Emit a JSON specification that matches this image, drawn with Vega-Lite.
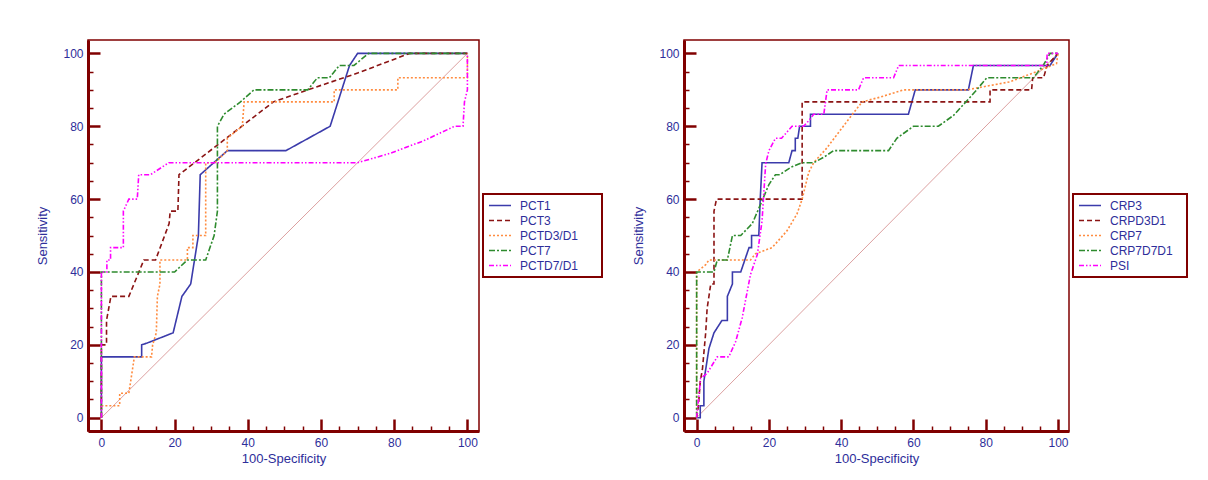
{
  "$schema": "https://vega.github.io/schema/vega-lite/v6.json",
  "background": "white",
  "padding": {"left": 36, "top": 39, "right": 0, "bottom": 0},
  "spacing": 28,
  "config": {
    "font": "Liberation Sans",
    "view": {"stroke": "#800000", "strokeWidth": 1.5},
    "legend": {
      "strokeColor": "#800000",
      "strokeWidth": 2,
      "fillColor": "white",
      "padding": 5,
      "labelFont": "Liberation Sans",
      "labelFontSize": 12,
      "labelColor": "#2e2e9a",
      "symbolType": "M-1,0H3",
      "symbolSize": 121,
      "symbolStrokeWidth": 1.6,
      "labelOffset": 19,
      "rowPadding": 2
    }
  },
  "datasets": {
    "diag": [{"x": 0, "y": 0}, {"x": 100, "y": 100}],
    "roc1": [
      {"c": "PCT1", "i": 1, "x": 0, "y": 0}, {"c": "PCT1", "i": 2, "x": 0, "y": 16.7}, {"c": "PCT1", "i": 3, "x": 11, "y": 16.7}, {"c": "PCT1", "i": 4, "x": 11, "y": 20}, {"c": "PCT1", "i": 5, "x": 12.5, "y": 20.5}, {"c": "PCT1", "i": 6, "x": 19.6, "y": 23.3}, {"c": "PCT1", "i": 7, "x": 22, "y": 33.3}, {"c": "PCT1", "i": 8, "x": 24.4, "y": 36.7}, {"c": "PCT1", "i": 9, "x": 26.5, "y": 50}, {"c": "PCT1", "i": 10, "x": 27, "y": 66.7}, {"c": "PCT1", "i": 11, "x": 34.4, "y": 73.3}, {"c": "PCT1", "i": 12, "x": 50.4, "y": 73.3}, {"c": "PCT1", "i": 13, "x": 62.5, "y": 80}, {"c": "PCT1", "i": 14, "x": 67.8, "y": 96.7}, {"c": "PCT1", "i": 15, "x": 70, "y": 100}, {"c": "PCT1", "i": 16, "x": 100, "y": 100},
      {"c": "PCT3", "i": 1, "x": 0, "y": 0}, {"c": "PCT3", "i": 2, "x": 0, "y": 20}, {"c": "PCT3", "i": 3, "x": 1.4, "y": 20}, {"c": "PCT3", "i": 4, "x": 1.4, "y": 26.7}, {"c": "PCT3", "i": 5, "x": 2.6, "y": 33.3}, {"c": "PCT3", "i": 6, "x": 7.5, "y": 33.3}, {"c": "PCT3", "i": 7, "x": 11.6, "y": 43.3}, {"c": "PCT3", "i": 8, "x": 14.8, "y": 43.3}, {"c": "PCT3", "i": 9, "x": 18.5, "y": 53.3}, {"c": "PCT3", "i": 10, "x": 18.8, "y": 56.7}, {"c": "PCT3", "i": 11, "x": 20.9, "y": 56.7}, {"c": "PCT3", "i": 12, "x": 21.2, "y": 66.7}, {"c": "PCT3", "i": 13, "x": 47, "y": 86.7}, {"c": "PCT3", "i": 14, "x": 56.4, "y": 90}, {"c": "PCT3", "i": 15, "x": 70, "y": 94.6}, {"c": "PCT3", "i": 16, "x": 84.2, "y": 100}, {"c": "PCT3", "i": 17, "x": 100, "y": 100},
      {"c": "PCTD3/D1", "i": 1, "x": 0, "y": 0}, {"c": "PCTD3/D1", "i": 2, "x": 0, "y": 3.3}, {"c": "PCTD3/D1", "i": 3, "x": 5, "y": 3.3}, {"c": "PCTD3/D1", "i": 4, "x": 5, "y": 6.7}, {"c": "PCTD3/D1", "i": 5, "x": 7.5, "y": 6.7}, {"c": "PCTD3/D1", "i": 6, "x": 8.5, "y": 13.3}, {"c": "PCTD3/D1", "i": 7, "x": 9, "y": 16.7}, {"c": "PCTD3/D1", "i": 8, "x": 13.7, "y": 16.7}, {"c": "PCTD3/D1", "i": 9, "x": 14, "y": 20}, {"c": "PCTD3/D1", "i": 10, "x": 15, "y": 23.3}, {"c": "PCTD3/D1", "i": 11, "x": 15.3, "y": 33.3}, {"c": "PCTD3/D1", "i": 12, "x": 16, "y": 36.7}, {"c": "PCTD3/D1", "i": 13, "x": 16, "y": 43.3}, {"c": "PCTD3/D1", "i": 14, "x": 23.5, "y": 43.3}, {"c": "PCTD3/D1", "i": 15, "x": 23.5, "y": 46.7}, {"c": "PCTD3/D1", "i": 16, "x": 25, "y": 46.7}, {"c": "PCTD3/D1", "i": 17, "x": 25, "y": 50}, {"c": "PCTD3/D1", "i": 18, "x": 28.5, "y": 50}, {"c": "PCTD3/D1", "i": 19, "x": 28.5, "y": 70}, {"c": "PCTD3/D1", "i": 20, "x": 31, "y": 70}, {"c": "PCTD3/D1", "i": 21, "x": 34.4, "y": 73.3}, {"c": "PCTD3/D1", "i": 22, "x": 34.4, "y": 76.7}, {"c": "PCTD3/D1", "i": 23, "x": 38.5, "y": 80}, {"c": "PCTD3/D1", "i": 24, "x": 39, "y": 86.7}, {"c": "PCTD3/D1", "i": 25, "x": 63.6, "y": 86.7}, {"c": "PCTD3/D1", "i": 26, "x": 63.6, "y": 90}, {"c": "PCTD3/D1", "i": 27, "x": 81, "y": 90}, {"c": "PCTD3/D1", "i": 28, "x": 81, "y": 93.3}, {"c": "PCTD3/D1", "i": 29, "x": 100, "y": 93.3}, {"c": "PCTD3/D1", "i": 30, "x": 100, "y": 100},
      {"c": "PCT7", "i": 1, "x": 0, "y": 0}, {"c": "PCT7", "i": 2, "x": 0, "y": 40}, {"c": "PCT7", "i": 3, "x": 20, "y": 40}, {"c": "PCT7", "i": 4, "x": 23.5, "y": 43.3}, {"c": "PCT7", "i": 5, "x": 28.5, "y": 43.3}, {"c": "PCT7", "i": 6, "x": 30.8, "y": 50}, {"c": "PCT7", "i": 7, "x": 31.7, "y": 56.7}, {"c": "PCT7", "i": 8, "x": 31.7, "y": 80}, {"c": "PCT7", "i": 9, "x": 33.5, "y": 83.3}, {"c": "PCT7", "i": 10, "x": 38, "y": 86.7}, {"c": "PCT7", "i": 11, "x": 41.7, "y": 90}, {"c": "PCT7", "i": 12, "x": 56.4, "y": 90}, {"c": "PCT7", "i": 13, "x": 59, "y": 93.3}, {"c": "PCT7", "i": 14, "x": 62.3, "y": 93.3}, {"c": "PCT7", "i": 15, "x": 65, "y": 96.7}, {"c": "PCT7", "i": 16, "x": 69, "y": 96.7}, {"c": "PCT7", "i": 17, "x": 73, "y": 100}, {"c": "PCT7", "i": 18, "x": 100, "y": 100},
      {"c": "PCTD7/D1", "i": 1, "x": 0, "y": 0}, {"c": "PCTD7/D1", "i": 2, "x": 0, "y": 40}, {"c": "PCTD7/D1", "i": 3, "x": 1.5, "y": 40}, {"c": "PCTD7/D1", "i": 4, "x": 1.5, "y": 43.3}, {"c": "PCTD7/D1", "i": 5, "x": 2.5, "y": 43.3}, {"c": "PCTD7/D1", "i": 6, "x": 2.5, "y": 46.7}, {"c": "PCTD7/D1", "i": 7, "x": 6, "y": 46.7}, {"c": "PCTD7/D1", "i": 8, "x": 6, "y": 56.7}, {"c": "PCTD7/D1", "i": 9, "x": 7.5, "y": 60}, {"c": "PCTD7/D1", "i": 10, "x": 9.8, "y": 60}, {"c": "PCTD7/D1", "i": 11, "x": 10.2, "y": 66.7}, {"c": "PCTD7/D1", "i": 12, "x": 13.4, "y": 66.7}, {"c": "PCTD7/D1", "i": 13, "x": 18.4, "y": 70}, {"c": "PCTD7/D1", "i": 14, "x": 70, "y": 70}, {"c": "PCTD7/D1", "i": 15, "x": 79, "y": 72.6}, {"c": "PCTD7/D1", "i": 16, "x": 88, "y": 76}, {"c": "PCTD7/D1", "i": 17, "x": 96.5, "y": 80}, {"c": "PCTD7/D1", "i": 18, "x": 98.8, "y": 80}, {"c": "PCTD7/D1", "i": 19, "x": 99.2, "y": 86.7}, {"c": "PCTD7/D1", "i": 20, "x": 100, "y": 90}, {"c": "PCTD7/D1", "i": 21, "x": 100, "y": 100}
    ],
    "roc2": [
      {"c": "CRP3", "i": 1, "x": 0, "y": 0}, {"c": "CRP3", "i": 2, "x": 1, "y": 0}, {"c": "CRP3", "i": 3, "x": 1, "y": 3.3}, {"c": "CRP3", "i": 4, "x": 2, "y": 3.3}, {"c": "CRP3", "i": 5, "x": 2, "y": 10}, {"c": "CRP3", "i": 6, "x": 3.4, "y": 19}, {"c": "CRP3", "i": 7, "x": 4.8, "y": 23.3}, {"c": "CRP3", "i": 8, "x": 7, "y": 26.7}, {"c": "CRP3", "i": 9, "x": 8.5, "y": 26.7}, {"c": "CRP3", "i": 10, "x": 8.5, "y": 33.3}, {"c": "CRP3", "i": 11, "x": 9.9, "y": 36.7}, {"c": "CRP3", "i": 12, "x": 9.9, "y": 40}, {"c": "CRP3", "i": 13, "x": 12.2, "y": 40}, {"c": "CRP3", "i": 14, "x": 14.5, "y": 46.7}, {"c": "CRP3", "i": 15, "x": 15.2, "y": 46.7}, {"c": "CRP3", "i": 16, "x": 15.2, "y": 50}, {"c": "CRP3", "i": 17, "x": 17.2, "y": 50}, {"c": "CRP3", "i": 18, "x": 17.6, "y": 60}, {"c": "CRP3", "i": 19, "x": 18.1, "y": 70}, {"c": "CRP3", "i": 20, "x": 25.5, "y": 70}, {"c": "CRP3", "i": 21, "x": 26.4, "y": 73.3}, {"c": "CRP3", "i": 22, "x": 27.3, "y": 73.3}, {"c": "CRP3", "i": 23, "x": 27.3, "y": 76.7}, {"c": "CRP3", "i": 24, "x": 28, "y": 76.7}, {"c": "CRP3", "i": 25, "x": 28.5, "y": 80}, {"c": "CRP3", "i": 26, "x": 31.5, "y": 80}, {"c": "CRP3", "i": 27, "x": 31.5, "y": 83.3}, {"c": "CRP3", "i": 28, "x": 58.6, "y": 83.3}, {"c": "CRP3", "i": 29, "x": 60.5, "y": 90}, {"c": "CRP3", "i": 30, "x": 75.2, "y": 90}, {"c": "CRP3", "i": 31, "x": 76.6, "y": 96.7}, {"c": "CRP3", "i": 32, "x": 97.8, "y": 96.7}, {"c": "CRP3", "i": 33, "x": 100, "y": 100},
      {"c": "CRPD3D1", "i": 1, "x": 0, "y": 0}, {"c": "CRPD3D1", "i": 2, "x": 0.5, "y": 3.3}, {"c": "CRPD3D1", "i": 3, "x": 1, "y": 10}, {"c": "CRPD3D1", "i": 4, "x": 1.6, "y": 13.3}, {"c": "CRPD3D1", "i": 5, "x": 2.5, "y": 23.3}, {"c": "CRPD3D1", "i": 6, "x": 2.9, "y": 30}, {"c": "CRPD3D1", "i": 7, "x": 3.4, "y": 33.3}, {"c": "CRPD3D1", "i": 8, "x": 3.9, "y": 36.7}, {"c": "CRPD3D1", "i": 9, "x": 4.8, "y": 36.7}, {"c": "CRPD3D1", "i": 10, "x": 4.8, "y": 56.7}, {"c": "CRPD3D1", "i": 11, "x": 5.5, "y": 60}, {"c": "CRPD3D1", "i": 12, "x": 29.2, "y": 60}, {"c": "CRPD3D1", "i": 13, "x": 29.2, "y": 86.7}, {"c": "CRPD3D1", "i": 14, "x": 81.2, "y": 86.7}, {"c": "CRPD3D1", "i": 15, "x": 81.2, "y": 90}, {"c": "CRPD3D1", "i": 16, "x": 92.7, "y": 90}, {"c": "CRPD3D1", "i": 17, "x": 93, "y": 93.3}, {"c": "CRPD3D1", "i": 18, "x": 96, "y": 93.3}, {"c": "CRPD3D1", "i": 19, "x": 97, "y": 96.7}, {"c": "CRPD3D1", "i": 20, "x": 100, "y": 100},
      {"c": "CRP7", "i": 1, "x": 0, "y": 0}, {"c": "CRP7", "i": 2, "x": 0, "y": 40}, {"c": "CRP7", "i": 3, "x": 2.5, "y": 42}, {"c": "CRP7", "i": 4, "x": 3.4, "y": 43.3}, {"c": "CRP7", "i": 5, "x": 14.9, "y": 43.3}, {"c": "CRP7", "i": 6, "x": 16.3, "y": 45}, {"c": "CRP7", "i": 7, "x": 20.9, "y": 46.7}, {"c": "CRP7", "i": 8, "x": 25, "y": 51.3}, {"c": "CRP7", "i": 9, "x": 27.8, "y": 56}, {"c": "CRP7", "i": 10, "x": 29.2, "y": 60}, {"c": "CRP7", "i": 11, "x": 31, "y": 67.3}, {"c": "CRP7", "i": 12, "x": 32.4, "y": 70}, {"c": "CRP7", "i": 13, "x": 36, "y": 74}, {"c": "CRP7", "i": 14, "x": 42.5, "y": 82.5}, {"c": "CRP7", "i": 15, "x": 45.8, "y": 86.7}, {"c": "CRP7", "i": 16, "x": 50.8, "y": 88}, {"c": "CRP7", "i": 17, "x": 57.3, "y": 90}, {"c": "CRP7", "i": 18, "x": 74.8, "y": 90}, {"c": "CRP7", "i": 19, "x": 86.7, "y": 92.2}, {"c": "CRP7", "i": 20, "x": 94.1, "y": 95}, {"c": "CRP7", "i": 21, "x": 99.6, "y": 97.2}, {"c": "CRP7", "i": 22, "x": 100, "y": 100},
      {"c": "CRP7D7D1", "i": 1, "x": 0, "y": 0}, {"c": "CRP7D7D1", "i": 2, "x": 0, "y": 40}, {"c": "CRP7D7D1", "i": 3, "x": 4.8, "y": 40}, {"c": "CRP7D7D1", "i": 4, "x": 5.7, "y": 43.3}, {"c": "CRP7D7D1", "i": 5, "x": 8.5, "y": 43.3}, {"c": "CRP7D7D1", "i": 6, "x": 9.9, "y": 50}, {"c": "CRP7D7D1", "i": 7, "x": 12.2, "y": 50}, {"c": "CRP7D7D1", "i": 8, "x": 15.4, "y": 53.3}, {"c": "CRP7D7D1", "i": 9, "x": 17.7, "y": 58.6}, {"c": "CRP7D7D1", "i": 10, "x": 20, "y": 64}, {"c": "CRP7D7D1", "i": 11, "x": 21.8, "y": 66.7}, {"c": "CRP7D7D1", "i": 12, "x": 23, "y": 66.7}, {"c": "CRP7D7D1", "i": 13, "x": 26, "y": 68.7}, {"c": "CRP7D7D1", "i": 14, "x": 29.2, "y": 70}, {"c": "CRP7D7D1", "i": 15, "x": 32.4, "y": 70}, {"c": "CRP7D7D1", "i": 16, "x": 35.2, "y": 71.5}, {"c": "CRP7D7D1", "i": 17, "x": 37.9, "y": 73.3}, {"c": "CRP7D7D1", "i": 18, "x": 53.1, "y": 73.3}, {"c": "CRP7D7D1", "i": 19, "x": 55.4, "y": 76.7}, {"c": "CRP7D7D1", "i": 20, "x": 60, "y": 80}, {"c": "CRP7D7D1", "i": 21, "x": 66.9, "y": 80}, {"c": "CRP7D7D1", "i": 22, "x": 71.1, "y": 83}, {"c": "CRP7D7D1", "i": 23, "x": 74.8, "y": 87}, {"c": "CRP7D7D1", "i": 24, "x": 77.5, "y": 90}, {"c": "CRP7D7D1", "i": 25, "x": 80.3, "y": 93.3}, {"c": "CRP7D7D1", "i": 26, "x": 93.2, "y": 93.3}, {"c": "CRP7D7D1", "i": 27, "x": 95.9, "y": 96.7}, {"c": "CRP7D7D1", "i": 28, "x": 97.8, "y": 100}, {"c": "CRP7D7D1", "i": 29, "x": 100, "y": 100},
      {"c": "PSI", "i": 1, "x": 0, "y": 0}, {"c": "PSI", "i": 2, "x": 1.1, "y": 10.8}, {"c": "PSI", "i": 3, "x": 2.9, "y": 12.2}, {"c": "PSI", "i": 4, "x": 5.7, "y": 16.7}, {"c": "PSI", "i": 5, "x": 8.9, "y": 16.7}, {"c": "PSI", "i": 6, "x": 10.8, "y": 20.9}, {"c": "PSI", "i": 7, "x": 12.6, "y": 27.4}, {"c": "PSI", "i": 8, "x": 14.9, "y": 39.3}, {"c": "PSI", "i": 9, "x": 16.8, "y": 44.8}, {"c": "PSI", "i": 10, "x": 18.1, "y": 54}, {"c": "PSI", "i": 11, "x": 19.1, "y": 69.7}, {"c": "PSI", "i": 12, "x": 20, "y": 73.3}, {"c": "PSI", "i": 13, "x": 21.8, "y": 76.7}, {"c": "PSI", "i": 14, "x": 23.5, "y": 76.7}, {"c": "PSI", "i": 15, "x": 26.4, "y": 80}, {"c": "PSI", "i": 16, "x": 29.6, "y": 80}, {"c": "PSI", "i": 17, "x": 31, "y": 81.5}, {"c": "PSI", "i": 18, "x": 32.4, "y": 83.3}, {"c": "PSI", "i": 19, "x": 35.2, "y": 83.3}, {"c": "PSI", "i": 20, "x": 36.1, "y": 90}, {"c": "PSI", "i": 21, "x": 44.8, "y": 90}, {"c": "PSI", "i": 22, "x": 46.2, "y": 93.3}, {"c": "PSI", "i": 23, "x": 54.5, "y": 93.3}, {"c": "PSI", "i": 24, "x": 55.9, "y": 96.7}, {"c": "PSI", "i": 25, "x": 96.9, "y": 96.7}, {"c": "PSI", "i": 26, "x": 97, "y": 100}, {"c": "PSI", "i": 27, "x": 100, "y": 100}
    ]
  },
  "hconcat": [
    {
      "width": 391,
      "height": 391,
      "encoding": {
        "x": {
          "field": "x", "type": "quantitative",
          "scale": {"domain": [-3.66, 103.17], "nice": false, "zero": false},
          "axis": {
            "title": "100-Specificity", "titleFont": "Liberation Sans", "titleFontSize": 13, "titleFontWeight": "normal", "titleColor": "#2e2e9a", "titlePadding": 4,
            "values": [0, 5, 10, 15, 20, 25, 30, 35, 40, 45, 50, 55, 60, 65, 70, 75, 80, 85, 90, 95, 100],
            "labelExpr": "datum.value % 20 === 0 ? datum.label : ''",
            "labelFont": "Liberation Sans", "labelFontSize": 12, "labelColor": "#2e2e9a", "labelPadding": 18, "labelFlush": false,
            "grid": false,
            "domainColor": "#800000", "domainWidth": 3,
            "tickColor": "#800000",
            "tickSize": {"condition": {"test": "datum.value % 20 === 0", "value": -12}, "value": -5},
            "tickWidth": {"condition": {"test": "datum.value % 20 === 0", "value": 2.5}, "value": 1.5}
          }
        },
        "y": {
          "field": "y", "type": "quantitative",
          "scale": {"domain": [-3.65, 103.68], "nice": false, "zero": false},
          "axis": {
            "title": "Sensitivity", "titleFont": "Liberation Sans", "titleFontSize": 13, "titleFontWeight": "normal", "titleColor": "#2e2e9a", "titlePadding": 13,
            "values": [0, 5, 10, 15, 20, 25, 30, 35, 40, 45, 50, 55, 60, 65, 70, 75, 80, 85, 90, 95, 100],
            "labelExpr": "datum.value % 20 === 0 ? datum.label : ''",
            "labelFont": "Liberation Sans", "labelFontSize": 12, "labelColor": "#2e2e9a", "labelPadding": 17, "labelFlush": false,
            "grid": false,
            "domainColor": "#800000", "domainWidth": 3,
            "tickColor": "#800000",
            "tickSize": {"condition": {"test": "datum.value % 20 === 0", "value": -12}, "value": -5},
            "tickWidth": {"condition": {"test": "datum.value % 20 === 0", "value": 2.5}, "value": 1.5}
          }
        }
      },
      "layer": [
        {"data": {"name": "diag"}, "mark": {"type": "line", "color": "#dca0a0", "strokeWidth": 1}},
        {
          "data": {"name": "roc1"},
          "mark": {"type": "line", "strokeWidth": 1.6},
          "encoding": {
            "order": {"field": "i", "type": "quantitative"},
            "color": {
              "field": "c", "type": "nominal",
              "scale": {"domain": ["PCT1", "PCT3", "PCTD3/D1", "PCT7", "PCTD7/D1"], "range": ["#3b3bab", "#8b1414", "#ff8c40", "#2e8b2e", "#ff00ff"]},
              "legend": {"orient": "none", "legendX": 395, "legendY": 154, "title": null, "labelExpr": "datum.label + '\u2800\u2800'"}
            },
            "strokeDash": {
              "field": "c", "type": "nominal",
              "scale": {"domain": ["PCT1", "PCT3", "PCTD3/D1", "PCT7", "PCTD7/D1"], "range": [[1, 0], [5, 3], [2, 2], [6, 2, 2, 2], [5, 2, 1.5, 2, 1.5, 2]]},
              "legend": {"orient": "none", "legendX": 395, "legendY": 154, "title": null, "labelExpr": "datum.label + '\u2800\u2800'"}
            }
          }
        }
      ]
    },
    {
      "width": 385,
      "height": 391,
      "encoding": {
        "x": {
          "field": "x", "type": "quantitative",
          "scale": {"domain": [-3.5, 103.05], "nice": false, "zero": false},
          "axis": {
            "title": "100-Specificity", "titleFont": "Liberation Sans", "titleFontSize": 13, "titleFontWeight": "normal", "titleColor": "#2e2e9a", "titlePadding": 4,
            "values": [0, 5, 10, 15, 20, 25, 30, 35, 40, 45, 50, 55, 60, 65, 70, 75, 80, 85, 90, 95, 100],
            "labelExpr": "datum.value % 20 === 0 ? datum.label : ''",
            "labelFont": "Liberation Sans", "labelFontSize": 12, "labelColor": "#2e2e9a", "labelPadding": 18, "labelFlush": false,
            "grid": false,
            "domainColor": "#800000", "domainWidth": 3,
            "tickColor": "#800000",
            "tickSize": {"condition": {"test": "datum.value % 20 === 0", "value": -12}, "value": -5},
            "tickWidth": {"condition": {"test": "datum.value % 20 === 0", "value": 2.5}, "value": 1.5}
          }
        },
        "y": {
          "field": "y", "type": "quantitative",
          "scale": {"domain": [-3.65, 103.68], "nice": false, "zero": false},
          "axis": {
            "title": "Sensitivity", "titleFont": "Liberation Sans", "titleFontSize": 13, "titleFontWeight": "normal", "titleColor": "#2e2e9a", "titlePadding": 13,
            "values": [0, 5, 10, 15, 20, 25, 30, 35, 40, 45, 50, 55, 60, 65, 70, 75, 80, 85, 90, 95, 100],
            "labelExpr": "datum.value % 20 === 0 ? datum.label : ''",
            "labelFont": "Liberation Sans", "labelFontSize": 12, "labelColor": "#2e2e9a", "labelPadding": 17, "labelFlush": false,
            "grid": false,
            "domainColor": "#800000", "domainWidth": 3,
            "tickColor": "#800000",
            "tickSize": {"condition": {"test": "datum.value % 20 === 0", "value": -12}, "value": -5},
            "tickWidth": {"condition": {"test": "datum.value % 20 === 0", "value": 2.5}, "value": 1.5}
          }
        }
      },
      "layer": [
        {"data": {"name": "diag"}, "mark": {"type": "line", "color": "#dca0a0", "strokeWidth": 1}},
        {
          "data": {"name": "roc2"},
          "mark": {"type": "line", "strokeWidth": 1.6},
          "encoding": {
            "order": {"field": "i", "type": "quantitative"},
            "color": {
              "field": "c", "type": "nominal",
              "scale": {"domain": ["CRP3", "CRPD3D1", "CRP7", "CRP7D7D1", "PSI"], "range": ["#3b3bab", "#8b1414", "#ff8c40", "#2e8b2e", "#ff00ff"]},
              "legend": {"orient": "none", "legendX": 389, "legendY": 154, "title": null, "labelExpr": "datum.label + '\u2800'"}
            },
            "strokeDash": {
              "field": "c", "type": "nominal",
              "scale": {"domain": ["CRP3", "CRPD3D1", "CRP7", "CRP7D7D1", "PSI"], "range": [[1, 0], [5, 3], [2, 2], [6, 2, 2, 2], [5, 2, 1.5, 2, 1.5, 2]]},
              "legend": {"orient": "none", "legendX": 389, "legendY": 154, "title": null, "labelExpr": "datum.label + '\u2800'"}
            }
          }
        }
      ]
    }
  ],
  "resolve": {"scale": {"color": "independent", "strokeDash": "independent"}}
}
